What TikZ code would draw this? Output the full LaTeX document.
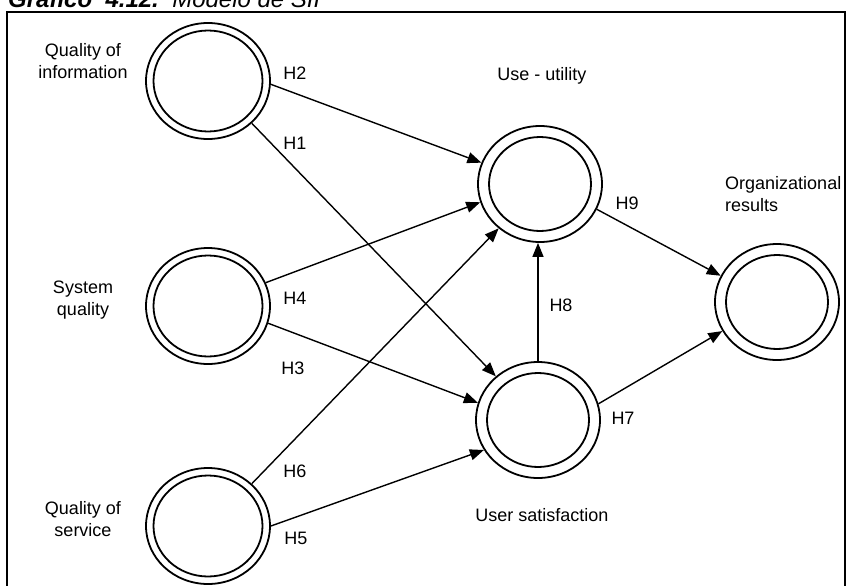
\documentclass[tikz,border=0pt]{standalone}
\usepackage{fontspec}
\setmainfont{Liberation Sans}
\usetikzlibrary{shapes.geometric,arrows.meta}

\begin{document}
\begin{tikzpicture}[x=1pt,y=-1pt,
  lbl/.style={font=\fontsize{18}{22}\selectfont, align=center, inner sep=0pt},
  ring/.style={ellipse, draw, line width=1.8pt, minimum width=124pt, minimum height=116pt, inner sep=0pt},
  ringL/.style={ring, path picture={\draw[line width=1.8pt] (path picture bounding box.center) ellipse [x radius=54.5pt, y radius=50.5pt];}},
  ringR/.style={ring, path picture={\draw[line width=1.8pt] (path picture bounding box.center) ellipse [x radius=51pt, y radius=47pt];}},
  link/.style={line width=1.4pt, -{Triangle[length=14pt,width=11pt]}},
]
\useasboundingbox (0,0) rectangle (851,586);
\clip (0,0) rectangle (851,586);
\fill[white] (0,0) rectangle (851,586);

% caption, partly cut off by the top edge
\node[anchor=base west, inner sep=0pt, font=\fontsize{24}{28}\selectfont] (title) at (8,7.5)
  {\textbf{\textit{Gráfico\ \ 4.12.}}\ \ \textit{Modelo de SII}};

% frame
\draw[line width=1.8pt] (7,12) rectangle (845,640);

% constructs
\node[ringL] (qi) at (208,81) {};
\node[ringL] (sq) at (208,306) {};
\node[ringL] (qs) at (208,526) {};
\node[ringR] (uu) at (540,184) {};
\node[ringR] (us) at (538,420) {};
\node[ringR] (or) at (777,302) {};

% construct names
\node[lbl] (tqi) at (83,61) {Quality of\\information};
\node[lbl] (tsq) at (83,300) {System\\quality};
\node[lbl] (tqs) at (83,519) {Quality of\\service};
\node[lbl] (tuu) at (542,76) {Use - utility};
\node[lbl, align=left, anchor=west] (tor) at (725,194) {Organizational\\results};
\node[lbl] (tus) at (542,515) {User satisfaction};

% hypotheses
\node[lbl] (h2) at (295,73) {H2};
\node[lbl] (h1) at (295,143) {H1};
\node[lbl] (h4) at (295,298) {H4};
\node[lbl] (h3) at (293,368) {H3};
\node[lbl] (h6) at (295,471) {H6};
\node[lbl] (h5) at (296,538) {H5};
\node[lbl] (h8) at (561,305) {H8};
\node[lbl] (h7) at (623,418) {H7};
\node[lbl] (h9) at (627,203) {H9};

% paths
\draw[link] (qi.-3) -- (uu.160);
\draw[link] (qi.-44) -- (us.134);
\draw[link] (sq.22) -- (uu.197);
\draw[link] (sq.-16) -- (us.164);
\draw[link] (qs.44) -- (uu.227);
\draw[link] (qs.0) -- (us.209);
\draw[link] (us.north) -- (us.north |- uu.south);
\draw[link] (uu.-24) -- (or.155);
\draw[link] (us.15) -- (or.208);
\end{tikzpicture}
\end{document}
